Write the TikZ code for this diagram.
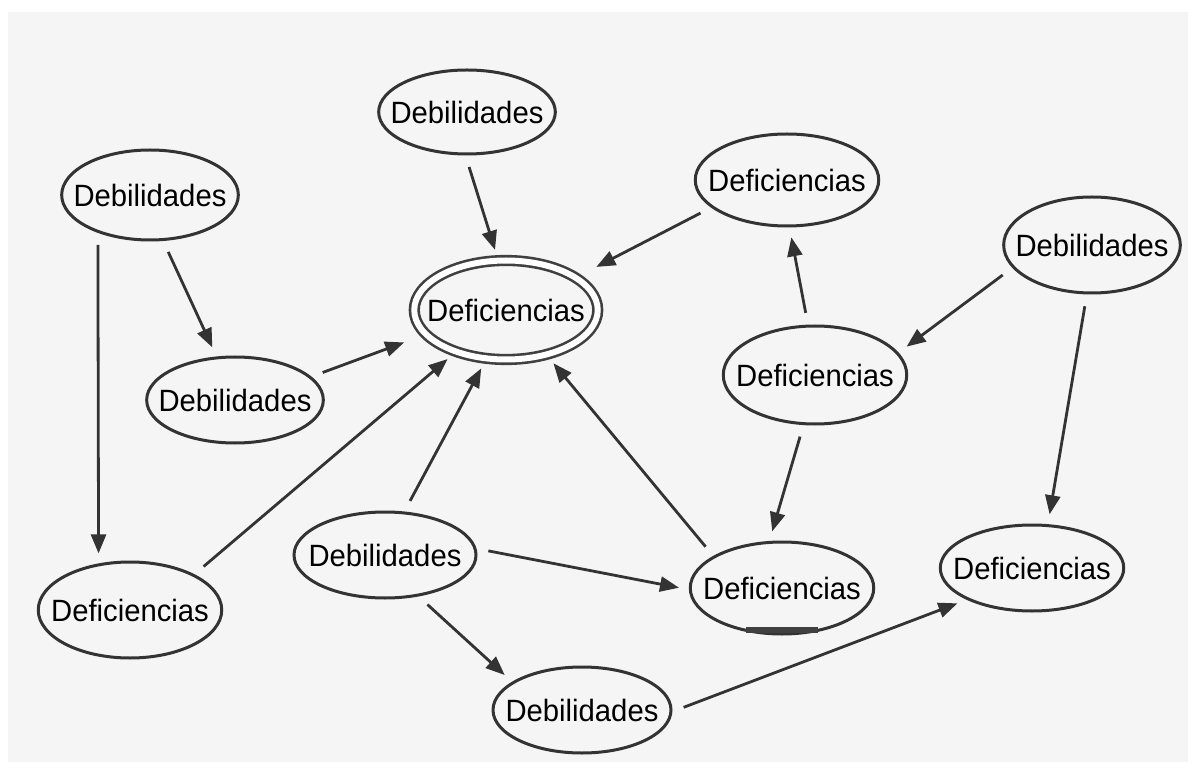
\documentclass[tikz,border=0pt]{standalone}
\usepackage{fontspec}
\setmainfont{Liberation Sans}
\newfontfamily\labelfont[FakeStretch=0.95]{Liberation Sans}
\usetikzlibrary{arrows.meta,shapes,positioning}

\begin{document}
\begin{tikzpicture}[x = 0.5pt, y = -0.5pt,
  oval/.style = {ellipse, draw = black!80, line width = 1.5pt,
    inner xsep = -7pt, inner ysep = 0pt,
    minimum width = 88pt, minimum height = 45pt,
    font = \labelfont\fontsize{15.4}{17}\selectfont},
  arr/.style = {-{Triangle[length = 9.5pt, width = 7.5pt]}, draw = black!80,
    line width = 1.4pt, shorten < = 6pt, shorten > = 5pt}]
% textured backdrop
\useasboundingbox (0,0) rectangle (1192,769);
\fill[white] (0,0) rectangle (1192,769);
\fill[black!4] (8,12) rectangle (1188,762);

\node[oval, draw = black!75, double, double distance = 3pt, line width = 1.3pt,
  minimum width = 90.5pt, minimum height = 49.5pt] (defCenter) at (506,310) {Deficiencias};
\node[oval, minimum height = 42pt] (debTop) at (467,112) {Debilidades};
\node[oval] (debLeft) at (150,195) {Debilidades};
\node[oval, minimum height = 46pt] (defTopRight) at (787,180) {Deficiencias};
\node[oval, minimum height = 48pt] (debRight) at (1092,245) {Debilidades};
\node[oval, minimum height = 43pt, minimum width = 85pt] (debMidLeft) at (235,400) {Debilidades};
\node[oval, minimum height = 49pt, minimum width = 90pt] (defMidRight) at (815,375) {Deficiencias};
\node[oval, minimum height = 43pt, minimum width = 91pt] (debBottomC) at (385,555) {Debilidades};
\node[oval, minimum height = 46pt, minimum width = 89pt] (defBottomR) at (782,588) {Deficiencias};
\node[oval, minimum height = 43pt, minimum width = 91pt] (defFarRight) at (1032,568) {Deficiencias};
\node[oval, minimum height = 48pt, minimum width = 85pt] (defBottomL) at (130,610) {Deficiencias};
\node[oval, minimum height = 43pt, minimum width = 89pt] (debBottom) at (582,710) {Debilidades};
\draw[line width = 3pt, black!75] ([xshift = -18pt, yshift = 3pt]defBottomR.south)
  -- ([xshift = 18pt, yshift = 3pt]defBottomR.south);

% arrows into the centre
\draw[arr] (debTop.-92) -- (defCenter.99);
\draw[arr, shorten > = 11pt] (defTopRight.200) -- (defCenter.25);
\draw[arr, shorten > = 11pt] (debMidLeft.17) -- (defCenter.-163);
\draw[arr] (defBottomL.29) -- (defCenter.-140);
\draw[arr] (debBottomC.66) -- (defCenter.-112);
\draw[arr] (defBottomR.155) -- (defCenter.-48);
% other arrows
\draw[arr] (debLeft.-74) -- (debMidLeft.113);
\draw[arr] (debLeft.-144) -- (defBottomL.124);
\draw[arr] (defMidRight.98) -- (defTopRight.-87);
\draw[arr] (debRight.-164) -- (defMidRight.15);
\draw[arr] (debRight.-96) -- (defFarRight.70);
\draw[arr] (defMidRight.-103) -- (defBottomR.105);
\draw[arr] (debBottomC.4) -- (defBottomR.-179);
\draw[arr] (debBottomC.-51) -- (debBottom.158);
\draw[arr] (debBottom.-1) -- (defFarRight.-154);
\end{tikzpicture}
\end{document}
